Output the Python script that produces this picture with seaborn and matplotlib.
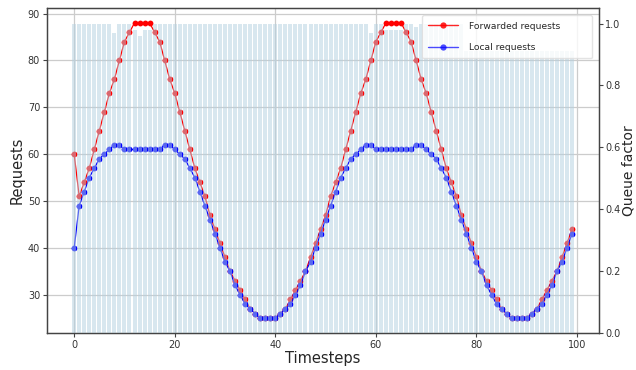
import matplotlib
matplotlib.use("Agg")
import matplotlib.pyplot as plt
import seaborn as sns
import numpy as np
import pandas as pd
from matplotlib.lines import Line2D

# ---- data ----
timesteps = list(range(100))

forwarded = [60, 51, 54, 57, 61, 65, 69, 73, 76, 80,
             84, 86, 88, 88, 88, 88, 86, 84, 80, 76,
             73, 69, 65, 61, 57, 54, 51, 47, 44, 41,
             38, 35, 33, 31, 29, 27, 26, 25, 25, 25,
             25, 26, 27, 29, 31, 33, 35, 38, 41, 44,
             47, 51, 54, 57, 61, 65, 69, 73, 76, 80,
             84, 86, 88, 88, 88, 88, 86, 84, 80, 76,
             73, 69, 65, 61, 57, 54, 51, 47, 44, 41,
             38, 35, 33, 31, 29, 27, 26, 25, 25, 25,
             25, 26, 27, 29, 31, 33, 35, 38, 41, 44]

local = [40, 49, 52, 55, 57, 59, 60, 61, 62, 62,
         61, 61, 61, 61, 61, 61, 61, 61, 62, 62,
         61, 60, 59, 57, 55, 52, 49, 46, 43, 40,
         37, 35, 32, 30, 28, 27, 26, 25, 25, 25,
         25, 26, 27, 28, 30, 32, 35, 37, 40, 43,
         46, 49, 52, 55, 57, 59, 60, 61, 62, 62,
         61, 61, 61, 61, 61, 61, 61, 61, 62, 62,
         61, 60, 59, 57, 55, 52, 49, 46, 43, 40,
         37, 35, 32, 30, 28, 27, 26, 25, 25, 25,
         25, 26, 27, 28, 30, 32, 35, 37, 40, 43]

queue_factor = [1.00, 1.00, 1.00, 1.00, 1.00, 1.00, 1.00, 1.00, 0.97, 1.00,
                1.00, 1.00, 0.98, 0.96, 0.98, 0.98, 1.00, 1.00, 1.00, 1.00,
                1.00, 1.00, 1.00, 1.00, 1.00, 1.00, 1.00, 1.00, 1.00, 1.00,
                1.00, 1.00, 1.00, 1.00, 1.00, 1.00, 1.00, 1.00, 1.00, 1.00,
                1.00, 1.00, 1.00, 1.00, 1.00, 1.00, 1.00, 1.00, 1.00, 1.00,
                1.00, 1.00, 1.00, 1.00, 1.00, 1.00, 1.00, 1.00, 1.00, 0.97,
                1.00, 1.00, 0.98, 0.98, 0.98, 0.98, 1.00, 1.00, 0.99, 1.00,
                1.00, 1.00, 1.00, 1.00, 1.00, 1.00, 1.00, 1.00, 0.91, 0.91,
                0.91, 0.91, 0.91, 0.91, 0.91, 0.91, 0.91, 0.91, 0.91, 0.91,
                0.91, 0.91, 0.91, 0.91, 0.91, 0.91, 0.91, 0.91, 0.91, 0.91]

series_labels = ["Forwarded requests", "Local requests"]

df = pd.DataFrame({"t": timesteps, "fwd": forwarded, "loc": local, "q": queue_factor})

sns.set_theme(style="whitegrid")
plt.rcParams["font.family"] = ["DejaVu Sans"]

fig = plt.figure(figsize=(6.36, 3.70), dpi=100)
ax = fig.add_axes([0.074, 0.100, 0.868, 0.878])

sns.lineplot(data=df, x="t", y="fwd", color="red", marker="o", markersize=4.2,
             markeredgewidth=0, linewidth=0.9, ax=ax, legend=False)
sns.lineplot(data=df, x="t", y="loc", color="blue", marker="o", markersize=4.2,
             markeredgewidth=0, linewidth=0.9, ax=ax, legend=False)

ax2 = ax.twinx()
ax2.bar(df["t"], df["q"], width=0.8, color="#b3d0e0", alpha=0.5, linewidth=0)
ax2.grid(False)
ax2.set_ylim(0, 1.05)

ax.set_xlim(-5.39, 104.39)
ax.set_ylim(21.85, 91.15)
ax.set_xticks([0, 20, 40, 60, 80, 100])
ax.set_yticks([30, 40, 50, 60, 70, 80, 90])
ax2.set_yticks([0.0, 0.2, 0.4, 0.6, 0.8, 1.0])

ax.grid(True, color="#cccccc", linewidth=0.9)
ax.set_xlabel("Timesteps", fontsize=10.5, labelpad=1)
ax.set_ylabel("Requests", fontsize=10.5, labelpad=2)
ax2.set_ylabel("Queue factor", fontsize=10, labelpad=0.5)

for a in (ax, ax2):
    for s in a.spines.values():
        s.set_color("#444444")
        s.set_linewidth(0.9)
    a.tick_params(axis="both", labelsize=7, length=3, width=0.8,
                  color="#444444", labelcolor="#333333", pad=2)
ax.tick_params(axis="both", which="both", bottom=True, left=True)
ax2.tick_params(axis="y", right=True, pad=1.5)

handles = [Line2D([], [], color="red", marker="o", markersize=4.5, linewidth=1.0,
                  markeredgewidth=0, alpha=0.85),
           Line2D([], [], color="blue", marker="o", markersize=4.5, linewidth=1.0,
                  markeredgewidth=0, alpha=0.7)]
leg = ax2.legend(handles, series_labels, loc="upper left",
                 bbox_to_anchor=(0.679, 0.978, 0.308, 0.0), mode="expand",
                 fontsize=6.6, handlelength=3.2, handletextpad=1.2,
                 labelspacing=1.35, borderpad=0.7, borderaxespad=0.0,
                 framealpha=0.8, frameon=True)
leg.get_frame().set_edgecolor("#dddddd")

fig.savefig("out.png", dpi=100)
